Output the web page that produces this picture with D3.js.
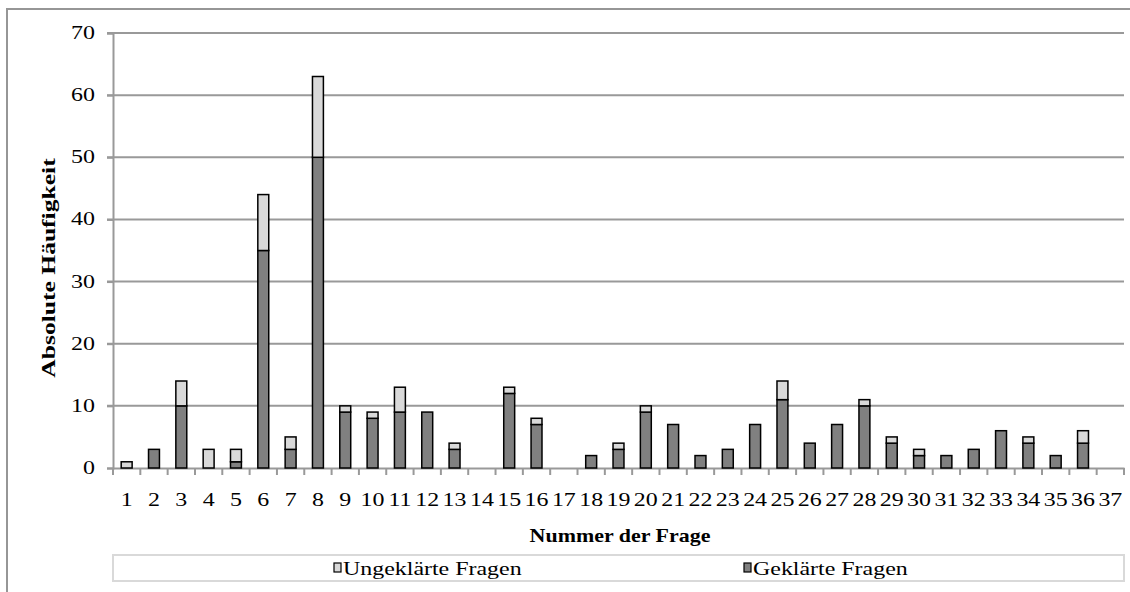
<!DOCTYPE html>
<html><head><meta charset="utf-8">
<script src="https://cdn.jsdelivr.net/npm/d3@7"></script>
<style>body{margin:0;background:#fff}svg{display:block}text{font-family:"Liberation Serif","Times New Roman",serif;fill:#000}</style>
</head><body><svg id="c" width="1130" height="592"></svg>
<script>
const categories = d3.range(1, 38).map(String);
const geklaert =   [0,3,10,0,1,35,3,50,9,8,9,9,3,0,12,7,0,2,3,9,7,2,3,7,11,4,7,10,4,2,2,3,6,4,2,4,0];
const ungeklaert = [1,0,4,3,2,9,2,13,1,1,4,0,1,0,1,1,0,0,1,1,0,0,0,0,3,0,0,1,1,1,0,0,0,1,0,2,0];
const yTicks = [0,10,20,30,40,50,60,70];
const seriesNames = ["Ungeklärte Fragen", "Geklärte Fragen"];
const colors = {g: "#808080", u: "#d9d9d9"};
const SX = 1.33;

const svg = d3.select("#c");
const L = 113, R = 1124, T = 33, B = 468;
const x = d3.scaleBand().domain(categories).range([L, R]).paddingInner(0.6).paddingOuter(0.3);
const xb = d3.scaleBand().domain(categories).range([L, R]);
const y = d3.scaleLinear().domain([0, 70]).range([B, T]);

// outer border
svg.append("path").attr("d", `M7,600 L7,9 L1140,9`).attr("fill","none").attr("stroke","#969696").attr("stroke-width",2);

// gridlines
svg.append("g").selectAll("line").data(yTicks.filter(d=>d>0)).join("line")
  .attr("x1", L-6).attr("x2", R).attr("y1", d=>y(d)).attr("y2", d=>y(d))
  .attr("stroke","#999").attr("stroke-width",2);

// y axis
const ya = svg.append("g").attr("transform",`translate(${L},0)`).call(d3.axisLeft(y).tickValues(yTicks).tickSize(6).tickPadding(0));
ya.select(".domain").attr("stroke","#999").attr("stroke-width",2);
ya.selectAll(".tick line").attr("stroke","#999").attr("stroke-width",2);
ya.selectAll(".tick text").remove();
svg.append("g").selectAll("text").data(yTicks).join("text")
  .attr("transform", d=>`translate(95,${y(d)+6}) scale(${SX},1)`)
  .attr("text-anchor","end").attr("font-size",18).text(d=>d);

// x axis
const xa = svg.append("g").attr("transform",`translate(0,${B})`)
  .call(d3.axisBottom(xb).tickSize(0).tickFormat(""));
xa.select(".domain").attr("stroke","#999").attr("stroke-width",2);
xa.selectAll(".tick").remove();
const bounds = categories.map(c=>xb(c)).concat([R]);
svg.append("g").selectAll("line").data(bounds).join("line")
  .attr("x1",d=>d).attr("x2",d=>d).attr("y1",B).attr("y2",B+7)
  .attr("stroke","#999").attr("stroke-width",2);
svg.append("g").selectAll("text").data(categories).join("text")
  .attr("transform", d=>`translate(${xb(d)+xb.bandwidth()/2},${B+38}) scale(${SX},1)`)
  .attr("text-anchor","middle").attr("font-size",18).text(d=>d);

// bars
const data = categories.map((c,i)=>({c, g: geklaert[i], u: ungeklaert[i]}));
const bars = svg.append("g");
bars.selectAll("rect.g").data(data.filter(d=>d.g>0)).join("rect").attr("class","g")
  .attr("x", d=>x(d.c)).attr("width", x.bandwidth())
  .attr("y", d=>y(d.g)).attr("height", d=>y(0)-y(d.g))
  .attr("fill", colors.g).attr("stroke","#000").attr("stroke-width",1.5);
bars.selectAll("rect.u").data(data.filter(d=>d.u>0)).join("rect").attr("class","u")
  .attr("x", d=>x(d.c)).attr("width", x.bandwidth())
  .attr("y", d=>y(d.g+d.u)).attr("height", d=>y(d.g)-y(d.g+d.u))
  .attr("fill", colors.u).attr("stroke","#000").attr("stroke-width",1.5);

// axis titles
svg.append("text").attr("transform",`translate(55,268) rotate(-90) scale(1.42,1)`)
  .attr("text-anchor","middle").attr("font-size",18).attr("font-weight","bold").text("Absolute Häufigkeit");
svg.append("text").attr("transform",`translate(620,542) scale(1.22,1)`)
  .attr("text-anchor","middle").attr("font-size",18).attr("font-weight","bold").text("Nummer der Frage");

// legend
svg.append("rect").attr("x",L).attr("y",555).attr("width",R-L).attr("height",26)
  .attr("fill","#fff").attr("stroke","#d9d9d9").attr("stroke-width",2);
const leg = [{name: seriesNames[0], col: colors.u, x: 334}, {name: seriesNames[1], col: colors.g, x: 744}];
const lg = svg.append("g").selectAll("g").data(leg).join("g");
lg.append("rect").attr("x",d=>d.x).attr("y",563).attr("width",7).attr("height",9)
  .attr("fill",d=>d.col).attr("stroke","#000").attr("stroke-width",1.2);
lg.append("text").attr("transform",d=>`translate(${d.x+9},575) scale(${SX},1)`)
  .attr("font-size",18).text(d=>d.name);
</script></body></html>
